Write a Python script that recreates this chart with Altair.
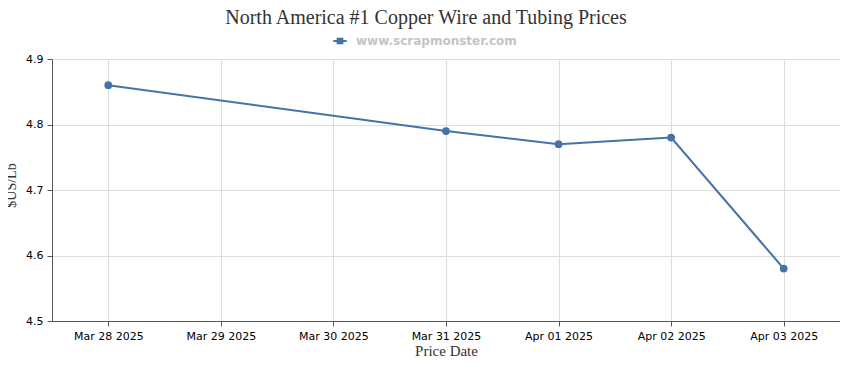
import altair as alt
import pandas as pd

dates = ["2025-03-28", "2025-03-31", "2025-04-01", "2025-04-02", "2025-04-03"]
prices = [4.86, 4.79, 4.77, 4.78, 4.58]
series = ["www.scrapmonster.com"] * len(dates)
tick_dates = [(2025, 3, 28), (2025, 3, 29), (2025, 3, 30), (2025, 3, 31),
              (2025, 4, 1), (2025, 4, 2), (2025, 4, 3)]

df = pd.DataFrame({"date": dates, "price": prices, "series": series})

BLUE = "#4572A7"
SERIF = "Liberation Serif"
SANS = "DejaVu Sans"

x = alt.X(
    "date:T",
    scale=alt.Scale(
        type="utc",
        domain=[alt.DateTime(year=2025, month=3, date=27, hours=12, utc=True),
                alt.DateTime(year=2025, month=4, date=3, hours=12, utc=True)],
    ),
    axis=alt.Axis(
        title="Price Date",
        values=[alt.DateTime(year=y, month=m, date=d, utc=True) for (y, m, d) in tick_dates],
        labelExpr="utcFormat(datum.value, '%b %d %Y')",
        grid=True,
    ),
)
y = alt.Y(
    "price:Q",
    scale=alt.Scale(domain=[4.5, 4.9], nice=False, zero=False),
    axis=alt.Axis(title="$US/Lb", values=[4.5, 4.6, 4.7, 4.8, 4.9], format=".1f",
                  titleX=-34, titleY=126, titleBaseline="bottom", titleFontSize=14),
)
color = alt.Color(
    "series:N",
    scale=alt.Scale(range=[BLUE]),
    legend=alt.Legend(
        title=None,
        orient="none",
        legendX=280,
        legendY=-26,
        direction="horizontal",
        symbolType="M-1,0H1M-0.35,-0.35H0.35V0.35H-0.35Z",
        symbolSize=180,
        symbolStrokeWidth=2,
        symbolFillColor=BLUE,
        symbolStrokeColor=BLUE,
        labelFont=SANS,
        labelFontSize=12,
        labelFontWeight="bold",
        labelColor="#c4c4c4",
        labelOffset=8,
        labelLimit=400,
    ),
)

line = alt.Chart(df).mark_line(strokeWidth=2).encode(x=x, y=y, color=color)
pts = alt.Chart(df).mark_point(filled=True, size=60, opacity=1).encode(x=x, y=y, color=color)

chart = (
    alt.layer(line, pts)
    .properties(
        width=788,
        height=262,
        autosize=alt.AutoSizeParams(type="none"),
        padding={"left": 44, "top": 51, "right": 0, "bottom": 40},
        title=alt.TitleParams(
            "North America #1 Copper Wire and Tubing Prices",
            font=SERIF,
            fontSize=20,
            fontWeight="normal",
            color="#333333",
            anchor="middle",
            frame="group",
            offset=5,
            dx=-20,
        ),
    )
    .configure_view(stroke=None)
    .configure_axis(
        domainColor="#555555",
        tickColor="#555555",
        tickSize=5,
        gridColor="#dddddd",
        labelFont=SANS,
        labelFontSize=11,
        labelColor="#000000",
        titleFont=SERIF,
        titleFontSize=15,
        titleFontWeight="normal",
        titleColor="#333333",
    )
    .configure_axisX(labelPadding=4, titlePadding=2, grid=True)
    .configure_axisY(labelPadding=4, grid=True)
)

chart.save("out.html", embed_options={"renderer": "svg", "actions": False})
